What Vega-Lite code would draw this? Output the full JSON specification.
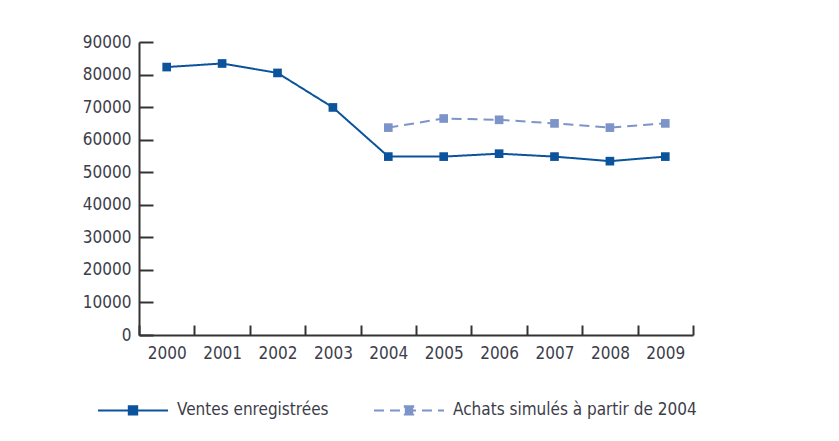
{
  "$schema": "https://vega.github.io/schema/vega-lite/v6.json",
  "width": 554,
  "height": 293,
  "autosize": {"type": "none"},
  "padding": {"left": 139, "top": 42, "right": 146, "bottom": 106},
  "background": "white",
  "config": {
    "view": {"stroke": null},
    "font": "'DejaVu Sans Condensed', 'Liberation Sans', sans-serif",
    "axis": {"labelFont": "'DejaVu Sans Condensed', 'Liberation Sans', sans-serif", "labelFontSize": 17, "labelColor": "#3d3d4a", "domainColor": "#333333", "tickColor": "#333333", "domainWidth": 2, "tickWidth": 2, "grid": false, "title": null},
    "legend": {"labelFont": "'DejaVu Sans Condensed', 'Liberation Sans', sans-serif", "labelFontSize": 17, "labelColor": "#3d3d4a", "labelLimit": 400}
  },
  "data": {
    "values": [
      {"annee": "2000", "valeur": 82300, "serie": "Ventes enregistrées"},
      {"annee": "2001", "valeur": 83400, "serie": "Ventes enregistrées"},
      {"annee": "2002", "valeur": 80500, "serie": "Ventes enregistrées"},
      {"annee": "2003", "valeur": 69900, "serie": "Ventes enregistrées"},
      {"annee": "2004", "valeur": 54800, "serie": "Ventes enregistrées"},
      {"annee": "2005", "valeur": 54800, "serie": "Ventes enregistrées"},
      {"annee": "2006", "valeur": 55700, "serie": "Ventes enregistrées"},
      {"annee": "2007", "valeur": 54800, "serie": "Ventes enregistrées"},
      {"annee": "2008", "valeur": 53400, "serie": "Ventes enregistrées"},
      {"annee": "2009", "valeur": 54800, "serie": "Ventes enregistrées"},
      {"annee": "2004", "valeur": 63700, "serie": "Achats simulés à partir de 2004"},
      {"annee": "2005", "valeur": 66500, "serie": "Achats simulés à partir de 2004"},
      {"annee": "2006", "valeur": 66100, "serie": "Achats simulés à partir de 2004"},
      {"annee": "2007", "valeur": 65000, "serie": "Achats simulés à partir de 2004"},
      {"annee": "2008", "valeur": 63700, "serie": "Achats simulés à partir de 2004"},
      {"annee": "2009", "valeur": 65000, "serie": "Achats simulés à partir de 2004"}
    ]
  },
  "mark": {"type": "line", "strokeWidth": 2, "point": {"shape": "square", "size": 75, "filled": true, "opacity": 1}},
  "encoding": {
    "x": {
      "field": "annee", "type": "ordinal", "bandPosition": 0.5,
      "scale": {"type": "band", "paddingInner": 0, "paddingOuter": 0},
      "axis": {"labelAngle": 0, "tickBand": "extent", "tickSize": -10, "labelPadding": 20}
    },
    "y": {
      "field": "valeur", "type": "quantitative",
      "scale": {"domain": [0, 90000], "nice": false},
      "axis": {"values": [0, 10000, 20000, 30000, 40000, 50000, 60000, 70000, 80000, 90000], "format": "d", "tickSize": -14, "labelPadding": 22}
    },
    "color": {
      "field": "serie", "type": "nominal",
      "scale": {"domain": ["Ventes enregistrées", "Achats simulés à partir de 2004"], "range": ["#0b539b", "#7d94c9"]},
      "legend": {
        "title": null, "orient": "none", "direction": "horizontal", "legendX": -42, "legendY": 332,
        "symbolType": "M-1,0H1M-0.12,-0.12H0.12V0.12H-0.12Z", "symbolSize": 4900, "symbolStrokeWidth": 2,
        "labelOffset": 8, "columnPadding": 41,
        "encode": {"symbols": {"update": {"fill": {"scale": "color", "field": "value"}}}}
      }
    },
    "strokeDash": {
      "field": "serie", "type": "nominal",
      "scale": {"domain": ["Ventes enregistrées", "Achats simulés à partir de 2004"], "range": [[1, 0], [10, 6]]},
      "legend": {
        "title": null, "orient": "none", "direction": "horizontal", "legendX": -42, "legendY": 332,
        "symbolType": "M-1,0H1M-0.12,-0.12H0.12V0.12H-0.12Z", "symbolSize": 4900, "symbolStrokeWidth": 2,
        "labelOffset": 8, "columnPadding": 41,
        "encode": {"symbols": {"update": {"fill": {"scale": "color", "field": "value"}}}}
      }
    }
  }
}
